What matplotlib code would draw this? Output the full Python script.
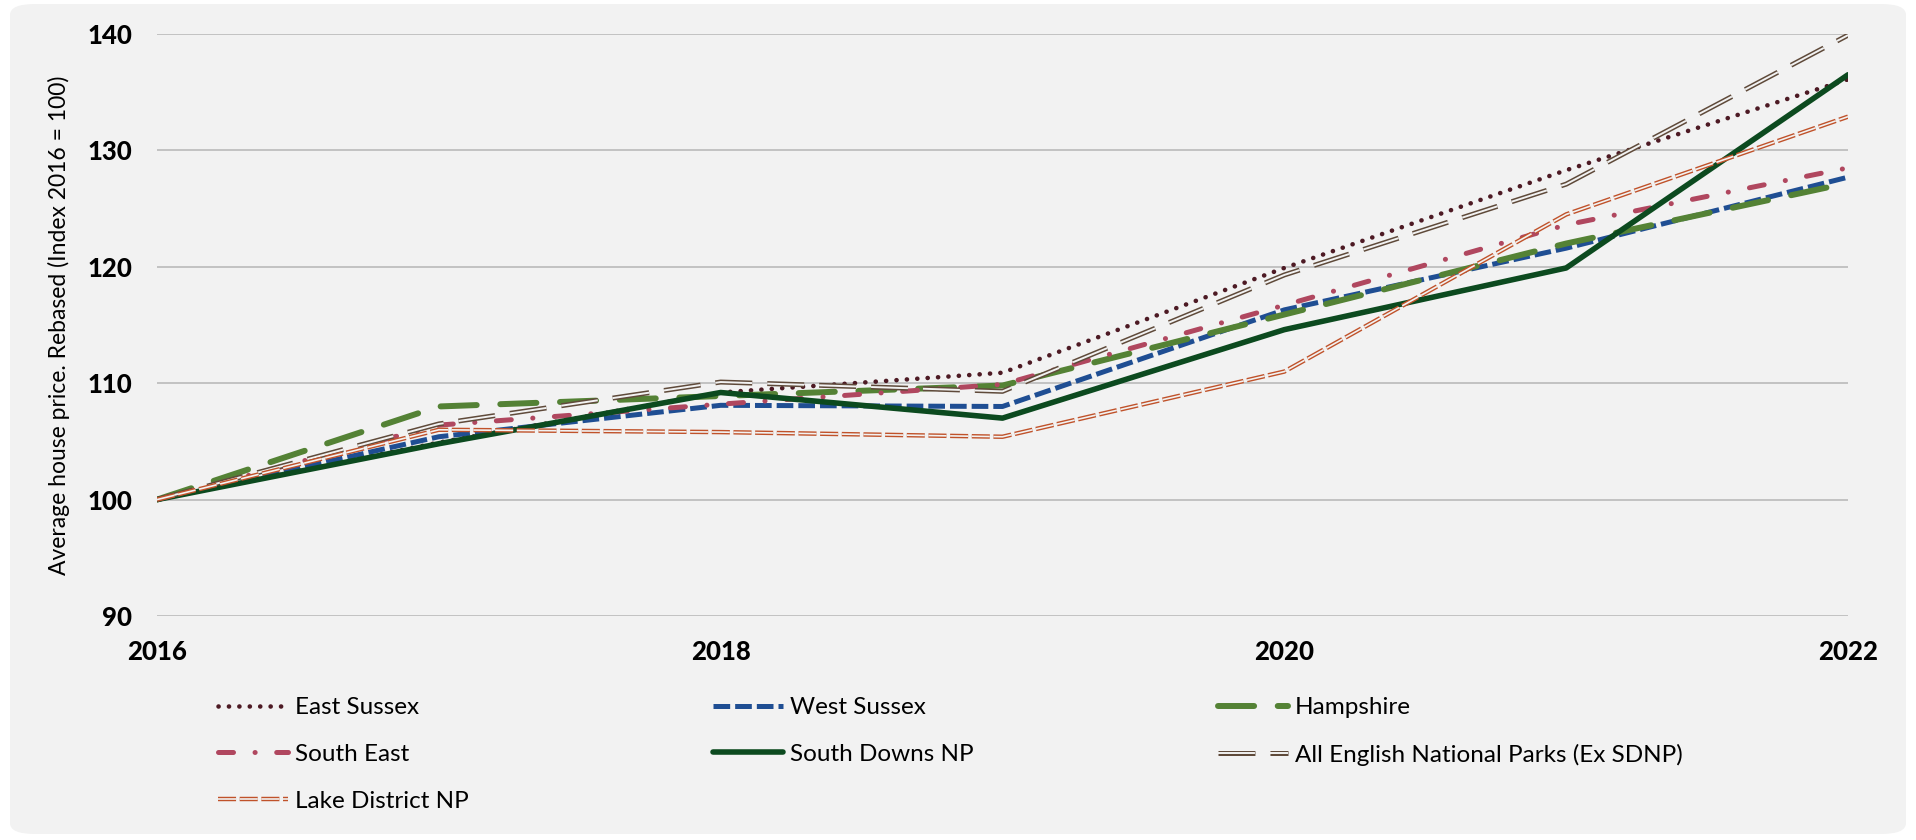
import matplotlib
matplotlib.use("Agg")
import matplotlib.pyplot as plt
from matplotlib.patches import FancyBboxPatch
from matplotlib.legend_handler import HandlerTuple

plt.rcParams['font.family'] = ['Lato', 'DejaVu Sans']
plt.rcParams['lines.scale_dashes'] = False

# ---------------- data ----------------
years = [2016, 2017, 2018, 2019, 2020, 2021, 2022]
east_sussex = [100, 104.9, 109.2, 110.9, 119.9, 128.3, 136.1]
west_sussex = [100, 105.4, 108.1, 108.0, 116.3, 121.6, 127.7]
hampshire = [100, 108.0, 108.9, 109.8, 115.9, 122.0, 127.2]
south_east = [100, 106.4, 108.2, 109.9, 116.7, 123.6, 128.5]
south_downs = [100, 104.8, 109.2, 107.0, 114.6, 119.9, 136.5]
all_np = [100, 106.5, 110.1, 109.3, 119.3, 127.1, 139.9]
lake_district = [100, 106.0, 105.8, 105.4, 111.0, 124.5, 132.9]

series_names = ["East Sussex", "West Sussex", "Hampshire", "South East",
                "South Downs NP", "All English National Parks (Ex SDNP)",
                "Lake District NP"]
x_ticks = [2016, 2018, 2020, 2022]
y_ticks = [90, 100, 110, 120, 130, 140]
y_label = "Average house price. Rebased (Index 2016 = 100)"

BG = "#f2f2f2"
W, H = 1916, 840
fig = plt.figure(figsize=(W / 100, H / 100), dpi=100, facecolor="white")

# rounded background panel
panel = FancyBboxPatch((10 / W, 6 / H), (1896) / W, (830) / H,
                       boxstyle="round,pad=0,rounding_size=0.013",
                       transform=fig.transFigure, facecolor=BG,
                       edgecolor="none", zorder=-10)
fig.patches.append(panel)

ax = fig.add_axes([157 / W, (840 - 616) / H, (1848 - 157) / W, (616 - 34) / H])
ax.set_facecolor("none")
ax.set_xlim(2016, 2022)
ax.set_ylim(90, 140)
for s in ax.spines.values():
    s.set_visible(False)
ax.set_yticks(y_ticks)
ax.set_xticks(x_ticks)
ax.set_xticklabels([str(v) for v in x_ticks])
ax.tick_params(axis="both", length=0, labelsize=18.5)
ax.tick_params(axis="y", pad=18)
ax.tick_params(axis="x", pad=17)
for lab in ax.get_xticklabels() + ax.get_yticklabels():
    lab.set_fontweight("black")
ax.yaxis.grid(True, color="#bfbfbf", linewidth=1.3)
ax.set_axisbelow(True)
ax.set_ylabel(y_label, fontsize=16.5, labelpad=12)

handles = {}

h, = ax.plot(years, east_sussex, color="#4d1a24", lw=3.3,
             dashes=(0.1, 7.4), dash_capstyle="round")
handles["East Sussex"] = h
h, = ax.plot(years, west_sussex, color="#1f4e93", lw=3.6,
             dashes=(12, 3.6), dash_capstyle="butt")
handles["West Sussex"] = h
h, = ax.plot(years, hampshire, color="#548235", lw=4.3,
             dashes=(26, 17), dash_capstyle="round")
handles["Hampshire"] = h
h, = ax.plot(years, south_east, color="#b0475f", lw=3.6,
             dashes=(10.8, 15.5, 0.1, 15.5), dash_capstyle="round")
handles["South East"] = h
h, = ax.plot(years, south_downs, color="#0c4a1f", lw=4.0,
             solid_capstyle="round")
handles["South Downs NP"] = h
h1, = ax.plot(years, all_np, color="#5f4a3a", lw=3.6,
              dashes=(26.6, 10.8), dash_capstyle="butt")
h2, = ax.plot(years, all_np, color=BG, lw=1.4,
              dashes=(26.6, 10.8), dash_capstyle="butt")
handles["All English National Parks (Ex SDNP)"] = (h1, h2)
h1, = ax.plot(years, lake_district, color="#c0522a", lw=3.2,
              dashes=(13, 2.6), dash_capstyle="butt")
h2, = ax.plot(years, lake_district, color=BG, lw=1.2,
              dashes=(13, 2.6), dash_capstyle="butt")
handles["Lake District NP"] = (h1, h2)

cols = [["East Sussex", "South East", "Lake District NP"],
        ["West Sussex", "South Downs NP"],
        ["Hampshire", "All English National Parks (Ex SDNP)"]]
col_x = [218, 713, 1218]
for xs, names in zip(col_x, cols):
    leg = fig.legend([handles[n] for n in names], names,
                     loc="upper left", bbox_to_anchor=(xs / W, 1 - 697 / H),
                     bbox_transform=fig.transFigure, frameon=False,
                     fontsize=17.5, handlelength=2.9, handletextpad=0.25,
                     labelspacing=1.06, borderpad=0, borderaxespad=0,
                     handler_map={tuple: HandlerTuple(ndivide=1, pad=0)})

fig.savefig("out.png", dpi=100, facecolor="white")
